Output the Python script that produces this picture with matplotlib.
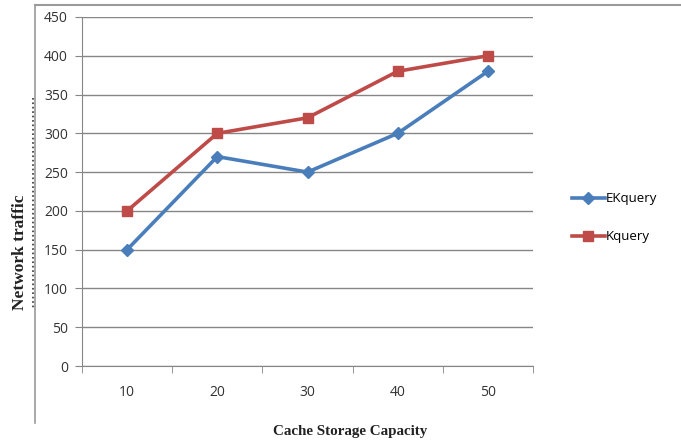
import matplotlib.pyplot as plt
from matplotlib.lines import Line2D

categories = ["10", "20", "30", "40", "50"]
ekquery = [150, 270, 250, 300, 380]
kquery = [200, 300, 320, 380, 400]
y_ticks = [0, 50, 100, 150, 200, 250, 300, 350, 400, 450]

fig = plt.figure(figsize=(6.81, 4.43), dpi=100)
ax = fig.add_axes([82 / 681, 1 - 366 / 443, 451 / 681, 349 / 443])

x = list(range(len(categories)))
ax.plot(x, ekquery, color="#4A7EBB", linewidth=2.6, marker="D",
        markersize=6.5, label="EKquery", zorder=3)
ax.plot(x, kquery, color="#BE4B48", linewidth=2.6, marker="s",
        markersize=7.5, label="Kquery", zorder=3)

ax.set_xlim(-0.5, len(categories) - 0.5)
ax.set_ylim(0, 450)
ax.set_yticks(y_ticks)
ax.yaxis.grid(True, color="#868686", linewidth=1)
ax.set_axisbelow(True)

# category labels centred, tick marks on the category boundaries
ax.set_xticks(x)
ax.set_xticklabels(categories)
ax.set_xticks([i - 0.5 for i in range(len(categories) + 1)], minor=True)
ax.tick_params(axis="x", which="major", length=0, pad=14)
ax.tick_params(axis="x", which="minor", length=5, color="#868686",
               direction="out")
ax.tick_params(axis="y", length=5, color="#868686", direction="out", pad=5)
ax.tick_params(labelsize=10, labelcolor="#333333")
for lab in ax.get_xticklabels() + ax.get_yticklabels():
    lab.set_fontfamily("Open Sans")

for side in ["top", "right"]:
    ax.spines[side].set_visible(False)
for side in ["left", "bottom"]:
    ax.spines[side].set_color("#868686")

ax.set_xlabel("Cache Storage Capacity", fontfamily="Liberation Serif",
              fontweight="bold", fontsize=10.8, color="#222222",
              va="center", ha="center")
ax.xaxis.set_label_coords((350 - 82) / 451, (366 - 432) / 349)
ax.set_ylabel("Network traffic", fontfamily="Liberation Serif",
              fontweight="bold", fontsize=12.5, color="#222222",
              va="center", ha="center")
ax.yaxis.set_label_coords((20 - 82) / 451, (366 - 252) / 349)

leg = ax.legend(loc="center left", bbox_to_anchor=(1.06, 0.425), frameon=False,
                prop={"family": "Open Sans", "size": 9.5},
                handlelength=2.5, labelspacing=1.9, handletextpad=0.1)

# outer chart frame (top and left edges)
fig.add_artist(Line2D([35 / 681, 1], [1 - 5 / 443, 1 - 5 / 443],
                      color="#9a9a9a", linewidth=1.5))
fig.add_artist(Line2D([35 / 681, 35 / 681], [1 - 5 / 443, 1 - 423 / 443],
                      color="#9a9a9a", linewidth=1.2))
fig.add_artist(Line2D([33 / 681, 33 / 681], [1 - 98 / 443, 1 - 308 / 443],
                      color="#333333", linewidth=1.2, linestyle=":"))

fig.savefig("out.png", dpi=100)
